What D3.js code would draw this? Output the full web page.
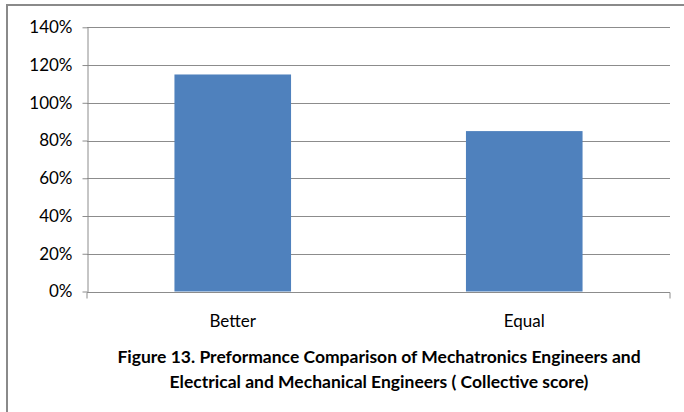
<!DOCTYPE html>
<html>
<head>
<meta charset="utf-8">
<script src="https://cdn.jsdelivr.net/npm/d3@7"></script>
<style>
  body { margin: 0; background: #fff; }
  text { font-family: Lato, "Open Sans", sans-serif; fill: #000; }
</style>
</head>
<body>
<div id="chart"></div>
<script>
// data
const categories = ["Better", "Equal"];
const values = [1.15, 0.85];
const yTicks = [0, 0.2, 0.4, 0.6, 0.8, 1.0, 1.2, 1.4];
const titleLines = [
  "Figure 13. Preformance Comparison of Mechatronics Engineers and",
  "Electrical and Mechanical Engineers ( Collective score)"
];

const width = 684, height = 412;
const svg = d3.select("#chart").append("svg")
  .attr("width", width).attr("height", height);

// outer frame
svg.append("rect")
  .attr("x", 7).attr("y", 5).attr("width", 720).attr("height", 440)
  .attr("fill", "none").attr("stroke", "#8a8a8a").attr("stroke-width", 2);

const plotLeft = 87, plotRight = 670, plotTop = 27.3, plotBottom = 291.5;

const x = d3.scaleBand().domain(categories).range([plotLeft, plotRight]).paddingInner(0.6).paddingOuter(0.3);
const y = d3.scaleLinear().domain([0, 1.4]).range([plotBottom, plotTop]);

// gridlines
svg.append("g")
  .selectAll("line")
  .data(yTicks.filter(d => d > 0))
  .enter().append("line")
  .attr("x1", plotLeft).attr("x2", plotRight)
  .attr("y1", d => Math.round(y(d)) + 0.5).attr("y2", d => Math.round(y(d)) + 0.5)
  .attr("stroke", "#8c8c8c").attr("stroke-width", 1);

// bars
svg.append("g")
  .selectAll("rect")
  .data(values)
  .enter().append("rect")
  .attr("x", (d, i) => x(categories[i]))
  .attr("width", x.bandwidth())
  .attr("y", d => y(d))
  .attr("height", d => y(0) - y(d))
  .attr("fill", "#4f81bd");

// y axis
const yAxis = d3.axisLeft(y).tickValues(yTicks).tickFormat(d3.format(".0%")).tickSizeInner(5).tickSizeOuter(0).tickPadding(10);
const gy = svg.append("g").attr("transform", `translate(${plotLeft + 0.5},0)`).call(yAxis);
gy.select(".domain").attr("stroke", "#8c8c8c");
gy.selectAll(".tick line").attr("stroke", "#8c8c8c");
gy.selectAll(".tick text").style("font-size", "17px").attr("fill", "#000");

// x axis
const xAxis = d3.axisBottom(x).tickSize(0).tickPadding(22);
const gx = svg.append("g").attr("transform", `translate(0,${Math.round(plotBottom) + 0.5})`).call(xAxis);
gx.select(".domain").attr("stroke", "#8c8c8c").attr("d", `M${plotLeft},6V0H${plotRight}V6`);
gx.selectAll(".tick text").style("font-size", "17px").attr("fill", "#000");

// title
svg.append("g")
  .selectAll("text")
  .data(titleLines)
  .enter().append("text")
  .attr("x", 379)
  .attr("y", (d, i) => 363 + i * 25)
  .attr("text-anchor", "middle")
  .style("font-size", "17.5px")
  .style("font-weight", "bold")
  .text(d => d);
</script>
</body>
</html>
